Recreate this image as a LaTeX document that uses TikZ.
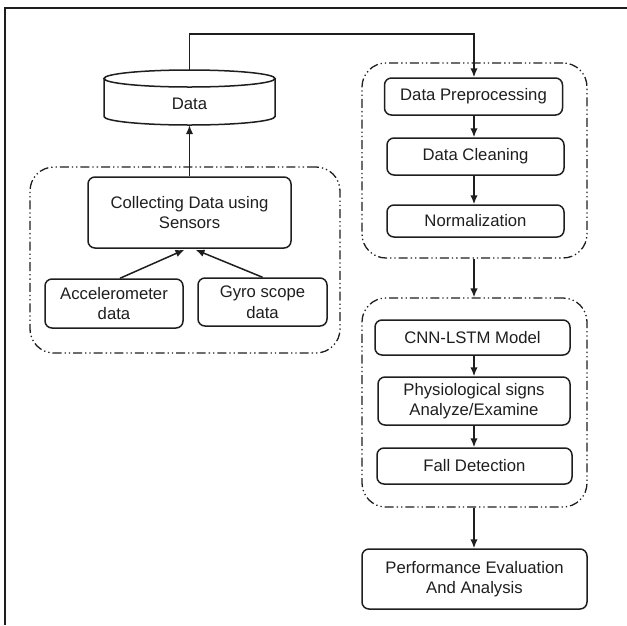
\documentclass[tikz,border=0pt]{standalone}
\usepackage{fontspec}
\setmainfont{Liberation Sans}
\usetikzlibrary{arrows.meta,calc}
\definecolor{ink}{HTML}{1E1E1E}
\tikzset{
  x=1pt, y=-1pt,
  every node/.style={font=\fontsize{16.7}{20.5}\selectfont, text=ink},
  stepbox/.style={draw=ink, line width=1.5pt, rounded corners=7pt, align=center, inner sep=0pt},
  groupbox/.style={draw=ink, line width=1.3pt, rounded corners=24pt,
    dash pattern=on 9pt off 3pt on 1.3pt off 3pt on 1.3pt off 3pt},
  flow/.style={draw=ink, line width=1.5pt, -{Latex[length=9pt,width=7.5pt]}},
  frameline/.style={draw=ink, line width=1.7pt}
}
\begin{document}
\begin{tikzpicture}
\useasboundingbox (0,0) rectangle (627,625);

% outer frame: top and left edges only
\coordinate (fcorner) at (5,8);
\coordinate (fright) at (627,8);
\coordinate (fbottom) at (5,625);
\draw[frameline] (fright) -- (fcorner) -- (fbottom);

% left group: sensor acquisition
\node[groupbox, minimum width=310pt, minimum height=186pt] (gsense) at (185,260) {};
\node[stepbox, minimum width=203pt, minimum height=71pt] (collect) at (189.5,212.5)
  {Collecting Data using\\Sensors};
\node[stepbox, minimum width=138pt, minimum height=49pt] (accel) at (114,303.5)
  {Accelerometer\\data};
\node[stepbox, minimum width=129pt, minimum height=48pt] (gyro) at (262.5,302)
  {Gyro scope\\data};

% data store (cylinder)
\node[minimum width=171pt, minimum height=55pt, inner sep=0pt] (data) at (189.5,97.5) {};
\draw[ink, line width=1.5pt, fill=white]
  (104,78.5) -- (104,116.5)
  arc[start angle=180, end angle=360, x radius=85.5pt, y radius=8.5pt]
  -- (275,78.5);
\draw[ink, line width=1.5pt] (189.5,78.5) ellipse [x radius=85.5pt, y radius=8.5pt];
\node (datalabel) at (189.5,104) {Data};

% right group A: preprocessing
\node[groupbox, minimum width=225pt, minimum height=195pt] (gprep) at (474.5,160.5) {};
\node[stepbox, minimum width=178pt, minimum height=37pt] (prep) at (473.5,96.5) {Data Preprocessing};
\node[stepbox, minimum width=177pt, minimum height=37pt] (clean) at (475.5,156.5) {Data Cleaning};
\node[stepbox, minimum width=177pt, minimum height=32pt] (norm) at (475.5,221) {Normalization};

% right group B: model
\node[groupbox, minimum width=225pt, minimum height=209pt] (gmodel) at (474.5,402.5) {};
\node[stepbox, minimum width=195pt, minimum height=35pt] (cnn) at (472.5,337.5) {CNN-LSTM Model};
\node[stepbox, minimum width=192pt, minimum height=48pt] (phys) at (474,401)
  {Physiological signs\\Analyze/Examine};
\node[stepbox, minimum width=195pt, minimum height=36pt] (fall) at (474.5,466) {Fall Detection};

% final step
\node[stepbox, minimum width=225pt, minimum height=60pt] (perf) at (474.5,579)
  {Performance Evaluation\\And Analysis};

% connectors
\draw[flow] (accel.north -| 120,0) -- ($(collect.south)+(-5,1)$);
\draw[flow] (gyro.north) -- ($(collect.south)+(6,1)$);
\draw[flow] (collect.north) -- (data.south);
\draw[flow] (data.north) -- ++(0,-36) -| (prep.north -| 474,0);
\draw[flow] (prep.south -| 474,0) -- (clean.north -| 474,0);
\draw[flow] (clean.south -| 474,0) -- (norm.north -| 474,0);
\draw[flow] (gprep.south -| 474,0) -- (gmodel.north -| 474,0);
\draw[flow] (cnn.south -| 474,0) -- (phys.north -| 474,0);
\draw[flow] (phys.south -| 474,0) -- (fall.north -| 474,0);
\draw[flow] (gmodel.south -| 474,0) -- (perf.north -| 474,0);
\end{tikzpicture}
\end{document}
